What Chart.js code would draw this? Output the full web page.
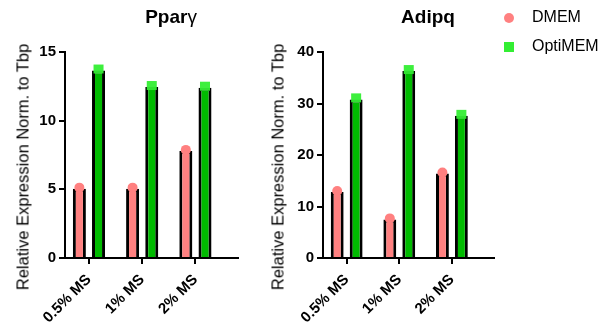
<!DOCTYPE html>
<html>
<head>
<meta charset="utf-8">
<script src="https://cdn.jsdelivr.net/npm/chart.js@4/dist/chart.umd.min.js"></script>
<style>
  html, body { margin: 0; padding: 0; background: #fff; }
  #wrap { position: relative; width: 598px; height: 332px; overflow: hidden; font-family: 'Liberation Sans', Arial, sans-serif; }
  canvas { position: absolute; top: 0; }
  .ttl { position: absolute; top: 6px; font-weight: bold; font-size: 19px; color: #000; transform: translateX(-50%); white-space: nowrap; }
  .ytl { position: absolute; top: 167px; font-size: 16.5px; color: #000; white-space: nowrap;
         transform: translate(-50%, -50%) rotate(-90deg); }
  .leg { position: absolute; left: 504px; font-size: 16px; color: #000; }
  .leg span.mk { position: absolute; left: 0; width: 10px; height: 10px; }
  .leg span.tx { position: absolute; left: 28px; top: -10px; white-space: nowrap; }
</style>
</head>
<body>
<div id="wrap">
  <canvas id="cPparg" width="250" height="332" style="left:9px"></canvas>
  <canvas id="cAdipq" width="250" height="332" style="left:264px"></canvas>
  <div class="ttl" style="left:171px">Ppar<span style="font-weight:normal">γ</span></div>
  <div class="ttl" style="left:428px">Adipq</div>
  <div class="ytl" style="left:22.5px">Relative Expression Norm. to Tbp</div>
  <div class="ytl" style="left:277.5px">Relative Expression Norm. to Tbp</div>
  <div class="leg" style="top:18px"><span class="mk" style="top:-5px;border-radius:50%;background:#FF8080"></span><span class="tx">DMEM</span></div>
  <div class="leg" style="top:47px"><span class="mk" style="top:-5px;background:#33EE33"></span><span class="tx">OptiMEM</span></div>
</div>
<script>
'use strict';

// ── Data ─────────────────────────────────────────────
const categories = ['0.5% MS', '1% MS', '2% MS'];

const ppargDMEM    = [5.05, 5.05, 7.8];
const ppargOptiMEM = [13.65, 12.45, 12.4];

const adipqDMEM    = [12.8, 7.5, 16.4];
const adipqOptiMEM = [30.8, 36.3, 27.6];

const ppargTicks = [0, 5, 10, 15];
const adipqTicks = [0, 10, 20, 30, 40];

const PINK  = '#FF8080';
const GREEN = '#00BB00';
const GREEN_PT = '#33EE33';

Chart.defaults.font.family = "'Liberation Sans', Arial, sans-serif";
Chart.defaults.color = '#000';

// ── Points on top of bars (drawn at bar elements) ────
const pointsPlugin = {
  id: 'points',
  afterDatasetsDraw(chart) {
    const ctx = chart.ctx;
    chart.data.datasets.forEach((ds, di) => {
      const meta = chart.getDatasetMeta(di);
      meta.data.forEach(bar => {
        ctx.save();
        if (ds.marker === 'circle') {
          ctx.fillStyle = PINK;
          ctx.beginPath();
          ctx.arc(bar.x, bar.y - 1, 5, 0, Math.PI * 2);
          ctx.fill();
        } else {
          ctx.fillStyle = GREEN_PT;
          ctx.globalAlpha = 0.95;
          ctx.fillRect(bar.x - 5, bar.y - 6, 10, 9);
        }
        ctx.restore();
      });
    });
  },
};

function makeChart(id, dmem, opti, ticks, yWidth, padRight) {
  const toXY = arr => arr.map((v, i) => ({ x: i + 1, y: v }));
  return new Chart(document.getElementById(id), {
    type: 'bar',
    data: {
      datasets: [
        { label: 'DMEM', data: toXY(dmem), backgroundColor: PINK, borderColor: '#000',
          borderWidth: 3, marker: 'circle' },
        { label: 'OptiMEM', data: toXY(opti), backgroundColor: GREEN, borderColor: '#000',
          borderWidth: 3, marker: 'square' },
      ],
    },
    options: {
      responsive: false,
      animation: false,
      categoryPercentage: 0.72,
      barPercentage: 0.68,
      layout: { padding: { top: 52, right: padRight, left: 0, bottom: 0 } },
      plugins: { legend: { display: false }, tooltip: { enabled: false } },
      scales: {
        x: {
          type: 'linear',
          min: 0.55, max: 3.8,
          offset: false,
          grid: { display: true, offset: false, drawOnChartArea: false, drawTicks: true,
                  tickLength: 6, color: '#000', lineWidth: 2 },
          border: { color: '#000', width: 2 },
          afterBuildTicks: s => { s.ticks = categories.map((c, i) => ({ value: i + 1 })); },
          afterFit: s => { s.height = 74; },
          ticks: {
            minRotation: 45, maxRotation: 45, padding: 7,
            font: { size: 15, weight: 'bold' },
            callback: v => categories[v - 1],
          },
        },
        y: {
          min: 0, max: ticks[ticks.length - 1],
          afterBuildTicks: s => { s.ticks = ticks.map(v => ({ value: v })); },
          afterFit: s => { s.width = yWidth; },
          grid: { display: true, drawOnChartArea: false, drawTicks: true,
                  tickLength: 6, color: '#000', lineWidth: 2 },
          border: { color: '#000', width: 2 },
          ticks: { padding: 3, font: { size: 15, weight: 'bold' } },
        },
      },
    },
    plugins: [pointsPlugin],
  });
}

makeChart('cPparg', ppargDMEM, ppargOptiMEM, ppargTicks, 56, 21);
makeChart('cAdipq', adipqDMEM, adipqOptiMEM, adipqTicks, 59, 20);
</script>
</body>
</html>
